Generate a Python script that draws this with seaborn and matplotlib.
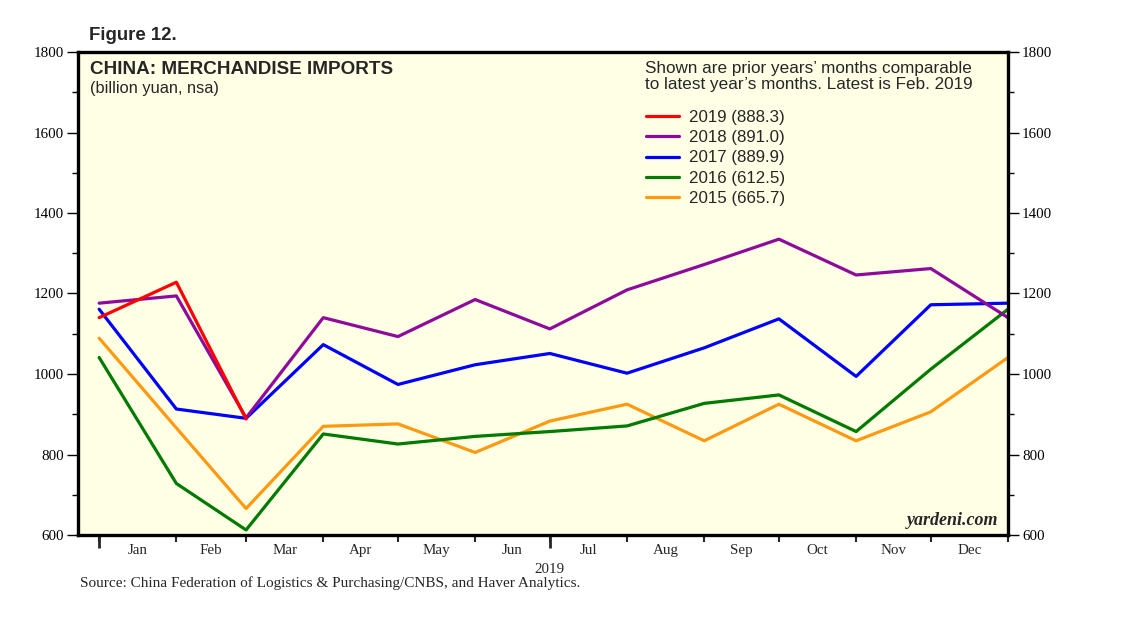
import pandas as pd
import matplotlib
matplotlib.use("Agg")
import matplotlib.pyplot as plt
import seaborn as sns

# values at month boundaries: prior Dec, Jan, Feb, ..., Dec
boundary_days = [0, 31, 59, 90, 120, 151, 181, 212, 243, 273, 304, 334, 365]
months = ['Jan', 'Feb', 'Mar', 'Apr', 'May', 'Jun', 'Jul', 'Aug', 'Sep', 'Oct', 'Nov', 'Dec']

imports_2019 = [1140, 1228, 888.3]
imports_2018 = [1176, 1194, 891.0, 1140, 1093, 1185, 1112, 1209, 1272, 1335, 1246, 1262, 1140]
imports_2017 = [1161, 913, 889.9, 1073, 974, 1023, 1051, 1002, 1065, 1137, 994, 1172, 1176]
imports_2016 = [1041, 728, 612.5, 851, 826, 845, 857, 871, 927, 948, 857, 1012, 1161]
imports_2015 = [1089, 866, 665.7, 870, 876, 805, 883, 925, 834, 925, 834, 906, 1041]

series = {
    2019: imports_2019,
    2018: imports_2018,
    2017: imports_2017,
    2016: imports_2016,
    2015: imports_2015,
}
colors = {2019: '#FF0000', 2018: '#8E0A9A', 2017: '#0000FF', 2016: '#007A00', 2015: '#FF9A10'}

y_ticks = list(range(600, 1801, 200))
y_minor = list(range(700, 1800, 200))

sns.set_style("ticks")
plt.rcParams['font.family'] = ['Liberation Sans', 'DejaVu Sans']

fig = plt.figure(figsize=(11.38, 6.21), dpi=100)
ax = fig.add_axes([78 / 1138, 1 - 535 / 621, 930 / 1138, 483 / 621])
ax.set_facecolor('#FFFFE6')

# draw oldest first so the latest year sits on top
for yr in sorted(series):
    vals = series[yr]
    df = pd.DataFrame({'day': boundary_days[:len(vals)], 'value': vals})
    label = f"{yr} ({vals[2]:.1f})"
    sns.lineplot(data=df, x='day', y='value', ax=ax, color=colors[yr],
                 linewidth=2.3, label=label)

ax.set_xlim(-8.5, 365)
ax.set_ylim(600, 1800)
ax.set_xlabel('')
ax.set_ylabel('')

for s in ax.spines.values():
    s.set_visible(True)
    s.set_linewidth(2.4)
    s.set_color('black')

serif = 'Liberation Serif'
ax.set_yticks(y_ticks)
ax.set_yticks(y_minor, minor=True)
ax.tick_params(axis='y', which='both', left=True, right=True, labelleft=True,
               labelright=True, direction='out', width=1, colors='black')
ax.tick_params(axis='y', which='major', length=8, pad=2)
ax.tick_params(axis='y', which='minor', length=4.5)
for lab in ax.get_yticklabels():
    lab.set_fontfamily(serif)
    lab.set_fontsize(10.8)

# month boundaries as ticks, month names centred between them
mids = [(boundary_days[i] + boundary_days[i + 1]) / 2 for i in range(12)]
ax.set_xticks(boundary_days)
ax.set_xticklabels([''] * len(boundary_days))
ax.set_xticks(mids, minor=True)
ax.set_xticklabels(months, minor=True, fontfamily=serif, fontsize=10.8)
ax.tick_params(axis='x', which='major', length=5, width=1.5, direction='out')
ax.tick_params(axis='x', which='minor', length=0, pad=6.5)

sec = ax.secondary_xaxis('bottom')
sec.set_xticks([0, 181])
sec.set_xticklabels(['', '2019'], fontfamily=serif, fontsize=10.8)
sec.tick_params(axis='x', length=9.5, width=2, pad=11, direction='out')
sec.spines['bottom'].set_visible(False)

handles, labels = ax.get_legend_handles_labels()
leg = ax.legend(handles[::-1], labels[::-1], loc='upper left',
                bbox_to_anchor=(0.603, 0.894), frameon=False, fontsize=12.2,
                handlelength=1.95, handletextpad=0.6, labelspacing=0.31,
                borderaxespad=0)

ax.text(0.6097, 0.982, "Shown are prior years\u2019 months comparable\nto latest year\u2019s months. Latest is Feb. 2019",
        transform=ax.transAxes, ha='left', va='top', fontsize=12.3, linespacing=1.08)
ax.text(0.013, 0.982, "CHINA: MERCHANDISE IMPORTS", transform=ax.transAxes,
        ha='left', va='top', fontsize=13.6, fontweight='bold')
ax.text(0.013, 0.94, "(billion yuan, nsa)", transform=ax.transAxes,
        ha='left', va='top', fontsize=11.8)
ax.text(0.99, 0.012, "yardeni.com", transform=ax.transAxes, ha='right', va='bottom',
        fontsize=13, fontweight='bold', fontstyle='italic', fontfamily=serif)

fig.text(89 / 1138, 1 - 35 / 621, "Figure 12.", ha='left', va='center',
         fontsize=13.4, fontweight='bold')
fig.text(80 / 1138, 1 - 583 / 621,
         "Source: China Federation of Logistics & Purchasing/CNBS, and Haver Analytics.",
         ha='left', va='center', fontsize=11, fontfamily=serif)

fig.savefig('out.png', dpi=100, facecolor='white')
